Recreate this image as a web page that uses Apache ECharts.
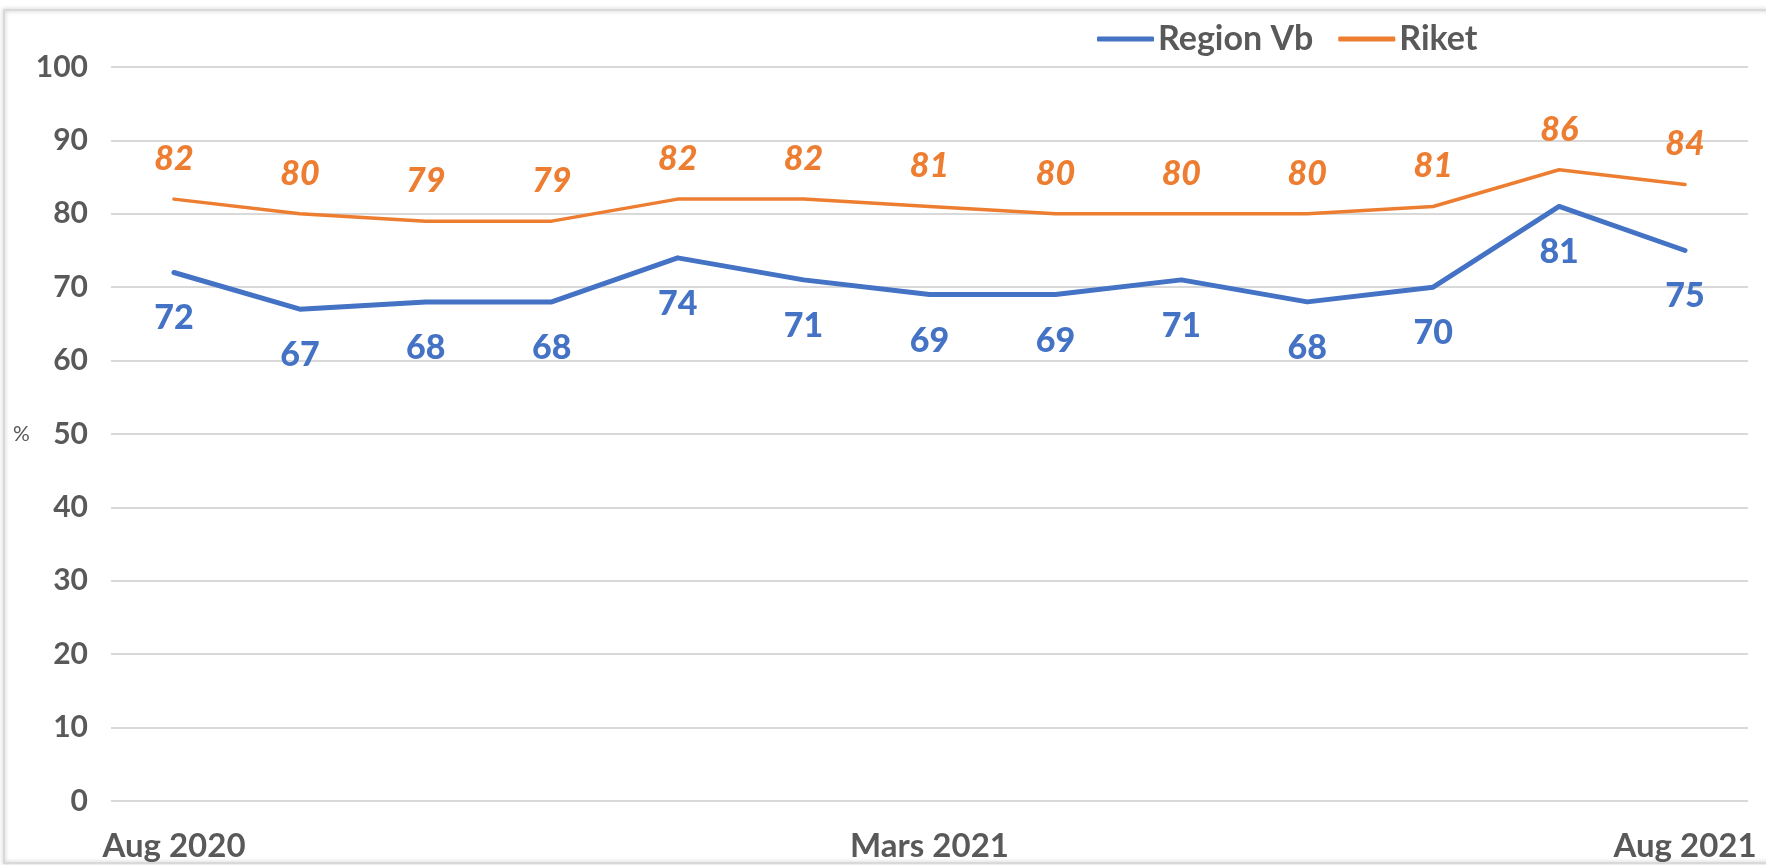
<!DOCTYPE html>
<html>
<head>
<meta charset="utf-8">
<title>Region Vb / Riket</title>
<script src="https://cdn.jsdelivr.net/npm/echarts@6/dist/echarts.min.js"></script>
<style>
	html, body { margin: 0; padding: 0; background: #fff; }
	#chart { width: 1766px; height: 865px; }
</style>
</head>
<body>
<div id="chart"></div>
<script>
	// one label per month, only three of them are printed on the axis
	const months = ['Aug 2020', '', '', '', '', '', 'Mars 2021', '', '', '', '', '', 'Aug 2021']
	const regionVb = [72, 67, 68, 68, 74, 71, 69, 69, 71, 68, 70, 81, 75]
	const riket = [82, 80, 79, 79, 82, 82, 81, 80, 80, 80, 81, 86, 84]
	const yTicks = [0, 10, 20, 30, 40, 50, 60, 70, 80, 90, 100]

	const grey = '#595959'
	const blue = '#4472C4'
	const orange = '#ED7D31'
	const font = 'Lato, "Open Sans", sans-serif'

	let myChart = echarts.init(document.getElementById('chart'))
	let option = {
		animation: false,
		textStyle: { fontFamily: font },
		graphic: [
			{
				type: 'rect',
				shape: { x: 4, y: 10, width: 1800, height: 853 },
				style: {
					fill: 'none',
					stroke: '#d9d9d9',
					lineWidth: 2,
					shadowBlur: 4,
					shadowColor: 'rgba(0,0,0,0.25)',
				},
				silent: true,
			},
		],
		legend: {
			left: 1097,
			top: 22,
			padding: 0,
			itemGap: 25,
			itemWidth: 57,
			itemHeight: 5,
			icon: 'roundRect',
			textStyle: {
				color: grey,
				fontSize: 34,
				fontWeight: 'bold',
				fontFamily: font,
				padding: [0, 0, 0, -1],
			},
			data: ['Region Vb', 'Riket'],
		},
		grid: {
			left: 111,
			right: 18,
			top: 67,
			bottom: 64,
		},
		xAxis: {
			type: 'category',
			data: months,
			boundaryGap: true,
			axisLine: { show: false },
			axisTick: { show: false },
			axisLabel: {
				interval: 0,
				color: grey,
				fontSize: 33,
				fontWeight: 'bold',
				margin: 29,
			},
		},
		yAxis: {
			type: 'value',
			min: yTicks[0],
			max: yTicks[yTicks.length - 1],
			interval: yTicks[1] - yTicks[0],
			name: '%',
			nameLocation: 'middle',
			nameRotate: 0,
			nameGap: 80,
			nameTextStyle: { color: grey, fontSize: 21 },
			axisLine: { show: false },
			axisTick: { show: false },
			axisLabel: {
				color: grey,
				fontSize: 30,
				fontWeight: 'bold',
				margin: 23,
			},
			splitLine: {
				lineStyle: { color: '#d9d9d9', width: 2 },
			},
		},
		series: [
			{
				name: 'Region Vb',
				type: 'line',
				data: regionVb,
				symbol: 'circle',
				symbolSize: 0,
				color: blue,
				lineStyle: { width: 5, color: blue, cap: 'round', join: 'round' },
				label: {
					show: true,
					position: 'bottom',
					distance: 29,
					color: blue,
					fontSize: 34,
					fontWeight: 900,
				},
			},
			{
				name: 'Riket',
				type: 'line',
				data: riket,
				symbol: 'circle',
				symbolSize: 0,
				color: orange,
				lineStyle: { width: 3.5, color: orange, cap: 'round', join: 'round' },
				label: {
					show: true,
					position: 'top',
					distance: 23,
					color: orange,
					fontSize: 34,
					fontWeight: 900,
					fontStyle: 'italic',
				},
			},
		],
	}

	option && myChart.setOption(option)
</script>
</body>
</html>
